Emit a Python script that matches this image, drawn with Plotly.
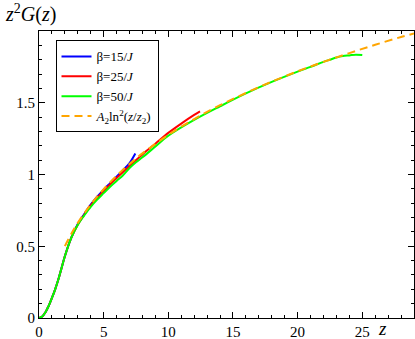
import plotly.graph_objects as go

# z^2 G(z) curves for three temperatures
z_b15 = [0, 0.25, 0.5, 0.75, 1, 1.25, 1.5, 1.75, 2, 2.5, 3, 3.5, 4, 4.5, 5, 5.5, 6, 6.5, 7, 7.45]
g_b15 = [0, 0.01, 0.04, 0.085, 0.14, 0.2, 0.27, 0.35, 0.43, 0.56, 0.655, 0.725, 0.79, 0.845, 0.895,
         0.94, 0.985, 1.03, 1.08, 1.147]

z_b25 = [0, 0.25, 0.5, 0.75, 1, 1.25, 1.5, 1.75, 2, 2.5, 3, 3.5, 4, 5, 6, 7, 8, 9, 10, 11, 12, 12.45]
g_b25 = [0, 0.01, 0.04, 0.085, 0.14, 0.2, 0.27, 0.35, 0.43, 0.56, 0.65, 0.72, 0.785, 0.885, 0.975,
         1.06, 1.14, 1.215, 1.29, 1.355, 1.415, 1.44]

z_b50 = [0, 0.25, 0.5, 0.75, 1, 1.25, 1.5, 1.75, 2, 2.5, 3, 3.5, 4, 4.5, 5, 5.5, 6, 6.5, 7, 7.5, 8, 9,
         10, 12, 14, 16, 18, 20, 21, 22, 22.5, 23, 23.5, 24, 24.5, 25]
g_b50 = [0, 0.01, 0.04, 0.085, 0.14, 0.2, 0.27, 0.35, 0.43, 0.56, 0.65, 0.715, 0.775, 0.825, 0.87,
         0.915, 0.955, 0.995, 1.045, 1.085, 1.12, 1.195, 1.27, 1.38, 1.475, 1.565, 1.645, 1.717, 1.75,
         1.785, 1.80, 1.815, 1.825, 1.83, 1.835, 1.832]

# fit curve A2 ln^2(z/z2), sampled points
z_fit = [2, 2.5, 3, 4, 5, 6, 7, 8, 10, 12, 14, 16, 18, 20, 22, 24, 26, 28, 29]
g_fit = [0.501, 0.587, 0.663, 0.791, 0.898, 0.991, 1.073, 1.147, 1.276, 1.386, 1.483, 1.568, 1.647,
         1.719, 1.785, 1.846, 1.904, 1.958, 1.982]

x_ticks = [0, 5, 10, 15, 20, 25]
y_ticks = [0, 0.5, 1, 1.5]

SERIF = '"Liberation Serif", "DejaVu Serif", serif'

fig = go.Figure()
fig.add_trace(go.Scatter(x=z_b15, y=g_b15, mode='lines', name='β=15/<i>J</i>', line_shape='spline',
                         line=dict(color='#0000ff', width=2)))
fig.add_trace(go.Scatter(x=z_b25, y=g_b25, mode='lines', name='β=25/<i>J</i>', line_shape='spline',
                         line=dict(color='#ff0000', width=2)))
fig.add_trace(go.Scatter(x=z_b50, y=g_b50, mode='lines', name='β=50/<i>J</i>', line_shape='spline',
                         line=dict(color='#00ff00', width=2)))
fig.add_trace(go.Scatter(x=z_fit, y=g_fit, mode='lines', line_shape='spline',
                         name='<i>A</i><sub>2</sub>ln<sup>2</sup>(<i>z</i>/<i>z</i><sub>2</sub>)',
                         line=dict(color='#ffa500', width=2, dash='8px,5px')))

axis_common = dict(showline=True, linecolor='black', linewidth=1, mirror='allticks',
                   ticks='inside', ticklen=6, tickcolor='black', showgrid=False, zeroline=False,
                   automargin=False,
                   tickfont=dict(family=SERIF, size=15, color='black'))

fig.update_xaxes(range=[0, 29], tickvals=x_ticks, ticktext=[str(v) for v in x_ticks],
                 minor=dict(dtick=1, ticks='inside', ticklen=3, tickcolor='black'),
                 **axis_common)
fig.update_yaxes(range=[0, 2], tickvals=y_ticks, ticktext=['0', '0.5', '1', '1.5'],
                 minor=dict(dtick=0.1, ticks='inside', ticklen=3, tickcolor='black'),
                 **axis_common)

fig.add_annotation(text='<i>z</i><sup>2</sup><i>G</i>(<i>z</i>)', xref='paper', yref='paper',
                   x=-0.097, y=1.012, xanchor='left', yanchor='bottom', showarrow=False,
                   font=dict(family=SERIF, size=20, color='black'))
fig.add_annotation(text='<i>z</i>', xref='paper', yref='paper', x=0.917, y=-0.036,
                   xanchor='center', yanchor='middle', showarrow=False,
                   font=dict(family=SERIF, size=19, color='black'))

fig.update_layout(
    width=415, height=339,
    margin=dict(l=38.5, r=1, t=30.5, b=20.7),
    plot_bgcolor='white', paper_bgcolor='white',
    legend=dict(x=0.044, y=0.967, xanchor='left', yanchor='top',
                bordercolor='black', borderwidth=1, bgcolor='white',
                font=dict(family=SERIF, size=13, color='black'),
                tracegroupgap=0, itemwidth=30),
    showlegend=True,
)

# drop the page's default body margin so the figure sits at the window's corner
fig.write_html("out.html", config={'displayModeBar': False},
               post_script="document.body.style.margin='0';")
